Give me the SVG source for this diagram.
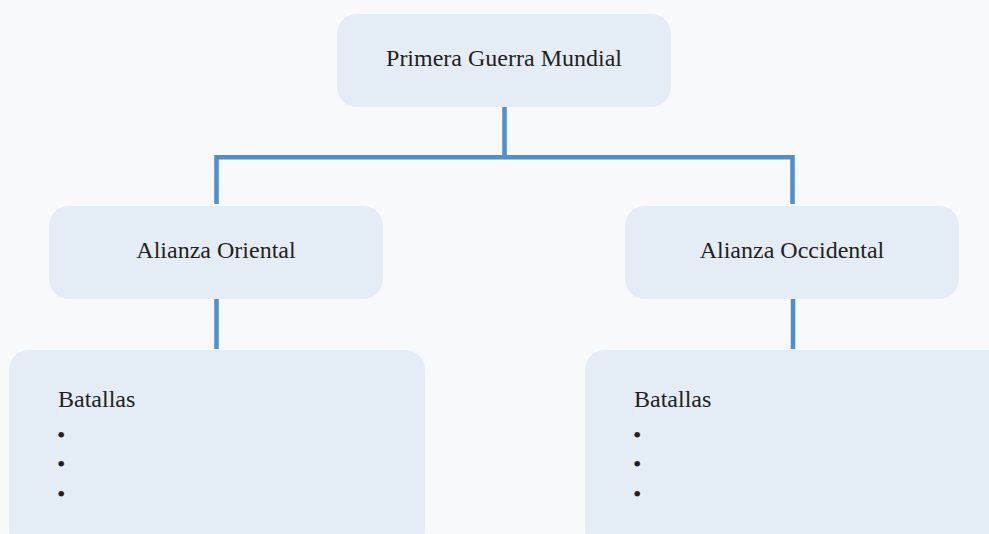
<svg xmlns="http://www.w3.org/2000/svg" width="989" height="534" viewBox="0 0 989 534">
<style>
.box{fill:#e4ecf6}
.lbl{font-family:"Liberation Serif","Times New Roman",serif;font-size:24px;fill:#231f20}
.c{text-anchor:middle}
.conn{fill:none;stroke:#4f8fcd;stroke-width:4.5;stroke-linecap:butt;stroke-linejoin:miter}
</style>
<rect width="989" height="534" fill="#f7f9fb"/>
<g id="connectors">
<path class="conn" d="M504.5 106 V157.2 M216.5 204 V157.2 H792.5 V204"/>
<path class="conn" d="M216.5 298 V349"/>
<path class="conn" d="M793 298 V349"/>
</g>
<g id="node-root">
<rect class="box" x="337" y="14" width="334" height="93" rx="20"/>
<text class="lbl c" x="504" y="66">Primera Guerra Mundial</text>
</g>
<g id="node-oriental">
<rect class="box" x="49" y="206" width="334" height="93" rx="20"/>
<text class="lbl c" x="216" y="258">Alianza Oriental</text>
</g>
<g id="node-occidental">
<rect class="box" x="625" y="206" width="334" height="93" rx="20"/>
<text class="lbl c" x="792" y="258">Alianza Occidental</text>
</g>
<g id="node-batallas-oriental">
<rect class="box" x="9" y="350" width="416" height="200" rx="20"/>
<text class="lbl" x="58" y="407">Batallas</text>
<text class="lbl" x="57" y="443">•</text>
<text class="lbl" x="57" y="472">•</text>
<text class="lbl" x="57" y="502">•</text>
</g>
<g id="node-batallas-occidental">
<rect class="box" x="585" y="350" width="430" height="200" rx="20"/>
<text class="lbl" x="634" y="407">Batallas</text>
<text class="lbl" x="633" y="443">•</text>
<text class="lbl" x="633" y="472">•</text>
<text class="lbl" x="633" y="502">•</text>
</g>
</svg>
